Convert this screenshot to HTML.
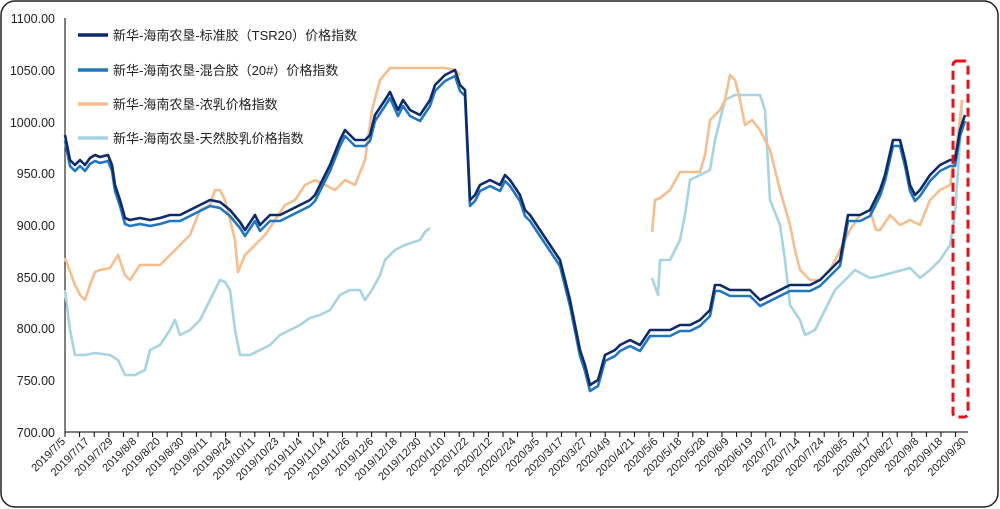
<!DOCTYPE html>
<html><head><meta charset="utf-8"><style>
body{margin:0;background:#fff}
svg{display:block;font-family:"Liberation Sans","Noto Sans CJK SC",sans-serif}
</style></head><body>
<svg width="1000" height="509" viewBox="0 0 1000 509">
<rect x="1" y="1" width="997" height="506" rx="14" fill="#fff" stroke="#222" stroke-width="1.5"/>
<g font-size="12.5" fill="#222" text-anchor="end">
<text x="55" y="23">1100.00</text><text x="55" y="75">1050.00</text><text x="55" y="127">1000.00</text>
<text x="55" y="178">950.00</text><text x="55" y="230">900.00</text><text x="55" y="282">850.00</text>
<text x="55" y="333">800.00</text><text x="55" y="385">750.00</text><text x="55" y="437">700.00</text>
</g>
<line x1="65" y1="18" x2="65" y2="432" stroke="#000" stroke-width="1"/>
<line x1="65" y1="432" x2="968" y2="432" stroke="#000" stroke-width="1"/>
<g id="ticks" stroke="#000"></g>
<g id="labels" font-size="11" fill="#222"></g>
<g fill="none" stroke-width="2.6" stroke-linejoin="round">
<polyline stroke="#a5d4e2" points="65,290 70,330 75,355 85,355 95,353 110,355 118,360 125,375 135,375 145,370 150,350 160,345 170,330 175,320 180,335 190,330 200,320 210,300 220,280 225,282 230,290 235,330 240,355 250,355 260,350 270,345 280,335 290,330 300,325 310,318 320,315 330,310 340,295 350,290 360,290 365,300 372,290 380,275 385,260 395,250 405,245 420,240 425,232 430,228"/>
<polyline stroke="#a5d4e2" points="652,278 658,295 660,260 670,260 680,240 685,215 690,180 700,175 710,170 715,140 725,100 735,95 750,95 760,95 765,110 770,200 780,225 785,260 790,305 800,320 805,335 815,330 825,310 835,290 840,285 845,280 855,270 870,278 880,276 895,272 910,268 920,278 930,270 940,260 950,245 955,215 960,140 962,100"/>
<polyline stroke="#f8bd8d" points="65,258 75,285 80,295 85,300 90,285 95,272 100,270 110,268 118,255 125,275 130,280 140,265 150,265 160,265 170,255 180,245 190,235 200,210 210,205 215,190 220,190 225,200 235,240 238,272 245,255 255,245 265,235 275,220 285,205 295,200 305,185 315,180 325,185 335,190 345,180 355,185 365,160 372,110 380,80 390,68 400,68 420,68 430,68 445,68 455,70 460,75"/>
<polyline stroke="#f8bd8d" points="652,232 655,200 660,198 670,190 680,172 690,172 700,172 705,155 710,120 720,110 725,100 730,75 735,80 740,100 745,125 752,120 760,130 770,150 780,190 790,225 795,250 800,270 810,280 820,280 830,270 840,250 850,230 860,215 870,210 876,230 880,230 890,215 900,225 910,220 920,225 930,200 940,190 950,185 958,135 962,100"/>
<polyline stroke="#1f77c4" transform="translate(0,6)" points="65,135 70,160 75,165 80,160 85,165 90,158 95,155 100,157 108,155 112,165 115,185 120,200 125,218 130,220 140,218 150,220 160,218 170,215 180,215 190,210 200,205 210,200 220,202 230,210 240,222 245,230 255,215 260,225 270,215 280,215 290,210 300,205 310,200 315,195 320,185 330,165 340,140 345,130 355,140 365,140 370,135 375,115 385,100 390,92 398,110 403,100 410,110 420,115 430,100 435,85 445,75 455,70 460,85 465,90 470,200 475,195 480,185 490,180 500,185 505,175 510,180 520,195 525,210 530,215 540,230 550,245 560,260 570,300 580,350 585,365 590,385 598,380 605,355 615,350 620,345 630,340 640,345 650,330 660,330 670,330 680,325 690,325 700,320 710,310 715,285 720,285 730,290 740,290 750,290 760,300 770,295 780,290 790,285 800,285 810,285 820,280 830,270 840,260 848,215 855,215 860,215 870,210 875,200 880,190 885,175 893,140 900,140 905,160 910,185 915,195 920,190 930,175 940,165 950,160 955,160 960,130 965,115"/>
<polyline stroke="#0d2a6b" points="65,135 70,160 75,165 80,160 85,165 90,158 95,155 100,157 108,155 112,165 115,185 120,200 125,218 130,220 140,218 150,220 160,218 170,215 180,215 190,210 200,205 210,200 220,202 230,210 240,222 245,230 255,215 260,225 270,215 280,215 290,210 300,205 310,200 315,195 320,185 330,165 340,140 345,130 355,140 365,140 370,135 375,115 385,100 390,92 398,110 403,100 410,110 420,115 430,100 435,85 445,75 455,70 460,85 465,90 470,200 475,195 480,185 490,180 500,185 505,175 510,180 520,195 525,210 530,215 540,230 550,245 560,260 570,300 580,350 585,365 590,385 598,380 605,355 615,350 620,345 630,340 640,345 650,330 660,330 670,330 680,325 690,325 700,320 710,310 715,285 720,285 730,290 740,290 750,290 760,300 770,295 780,290 790,285 800,285 810,285 820,280 830,270 840,260 848,215 855,215 860,215 870,210 875,200 880,190 885,175 893,140 900,140 905,160 910,185 915,195 920,190 930,175 940,165 950,160 955,160 960,130 965,115"/>
</g>
<rect x="953" y="61" width="15" height="356" rx="4" fill="none" stroke="#e8101a" stroke-width="3" stroke-dasharray="9,5"/>
<g stroke-width="3.5">
<line x1="78" y1="35" x2="108" y2="35" stroke="#0d2a6b"/>
<line x1="78" y1="70" x2="108" y2="70" stroke="#1f77c4"/>
<line x1="78" y1="104" x2="108" y2="104" stroke="#f8bd8d"/>
<line x1="78" y1="138" x2="108" y2="138" stroke="#a5d4e2"/>
</g>
<g font-size="13" fill="#222">
<text x="113" y="40">新华-海南农垦-标准胶（TSR20）价格指数</text>
<text x="113" y="75">新华-海南农垦-混合胶（20#）价格指数</text>
<text x="113" y="109">新华-海南农垦-浓乳价格指数</text>
<text x="113" y="143">新华-海南农垦-天然胶乳价格指数</text>
</g>
</svg>
<script>
var ns="http://www.w3.org/2000/svg";
var t=document.getElementById("ticks");
for(var x=65;x<=968;x+=14.6){var l=document.createElementNS(ns,"line");l.setAttribute("x1",x);l.setAttribute("x2",x);l.setAttribute("y1",432);l.setAttribute("y2",437);t.appendChild(l);}
var labs="2019/7/5,2019/7/17,2019/7/29,2019/8/8,2019/8/20,2019/8/30,2019/9/11,2019/9/24,2019/10/11,2019/10/23,2019/11/4,2019/11/14,2019/11/26,2019/12/6,2019/12/18,2019/12/30,2020/1/10,2020/1/22,2020/2/12,2020/2/24,2020/3/5,2020/3/17,2020/3/27,2020/4/9,2020/4/21,2020/5/6,2020/5/18,2020/5/28,2020/6/9,2020/6/19,2020/7/2,2020/7/14,2020/7/24,2020/8/5,2020/8/17,2020/8/27,2020/9/8,2020/9/18,2020/9/30".split(",");
var g=document.getElementById("labels");
labs.forEach(function(s,i){var x=66+i*23.7;var e=document.createElementNS(ns,"text");e.setAttribute("x",x);e.setAttribute("y",442);e.setAttribute("text-anchor","end");e.setAttribute("transform","rotate(-45 "+x+" 442)");e.textContent=s;g.appendChild(e);});
</script>
</body></html>
